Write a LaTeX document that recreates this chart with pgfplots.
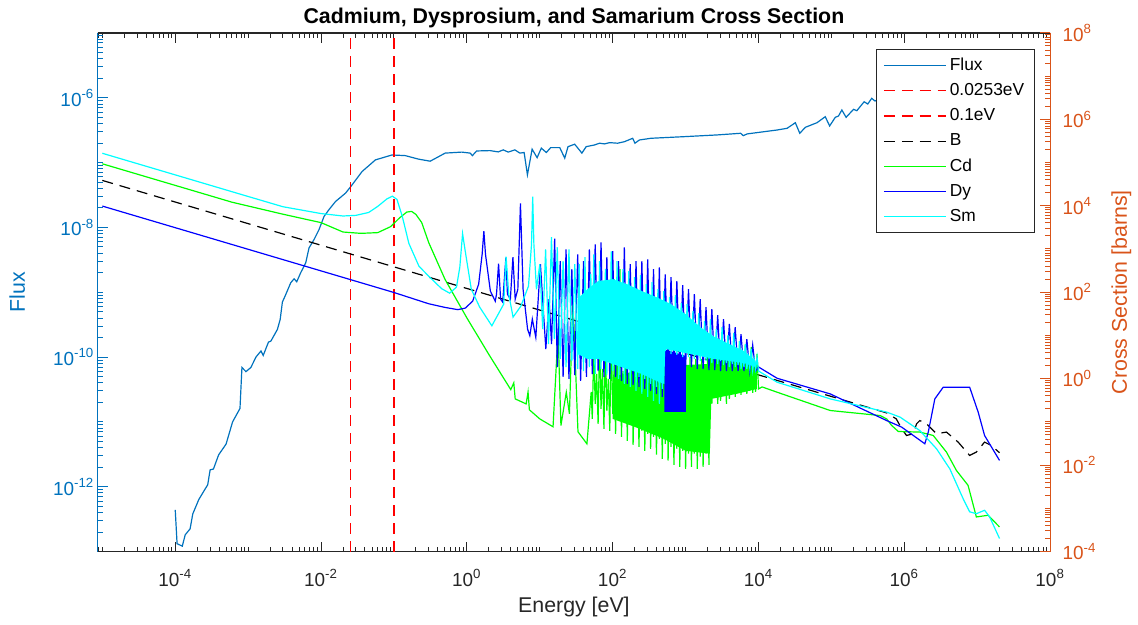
\documentclass[border=0pt]{standalone}
\usepackage{fontspec}
\setmainfont{Liberation Sans}
\usepackage{pgfplots}
\pgfplotsset{compat=1.18}

\definecolor{fluxblue}{rgb}{0,0.447,0.741}
\definecolor{csorange}{rgb}{0.85,0.325,0.098}
\definecolor{axisgray}{rgb}{0.15,0.15,0.15}
\definecolor{cdgreen}{rgb}{0,1,0}
\definecolor{dyblue}{rgb}{0,0,1}
\definecolor{smcyan}{rgb}{0,1,1}
\definecolor{lnred}{rgb}{1,0,0}

% minor tick positions m*10^k for the log axes
\def\xminors{}
\foreach \ex in {-6,...,8}{\foreach \mt in {1,...,9}{\xdef\xminors{\xminors\mt e\ex,}}}
\xdef\xminors{\xminors 1e9}
\def\yminorsL{}
\foreach \ex in {-14,...,-4}{\foreach \mt in {1,...,9}{\xdef\yminorsL{\yminorsL\mt e\ex,}}}
\xdef\yminorsL{\yminorsL 1e-3}
\def\yminorsR{}
\foreach \ex in {-5,...,8}{\foreach \mt in {1,...,9}{\xdef\yminorsR{\yminorsR\mt e\ex,}}}
\xdef\yminorsR{\yminorsR 1e9}

\newcommand\tickfont{\fontsize{9.5}{11}\selectfont}
\newcommand\labelfont{\fontsize{10.7}{12}\selectfont}

\begin{document}
\begin{tikzpicture}
% ---------------- left axis: neutron flux ----------------
\begin{axis}[
  name=fluxax,
  scale only axis, width=477.5pt, height=260pt,
  xmode=log, ymode=log,
  xmin=8.65e-6, xmax=1e8, ymin=1e-13, ymax=1e-5,
  axis y line*=left,
  xtick={1e-4,1e-2,1,1e2,1e4,1e6,1e8},
  xticklabels={10\textsuperscript{-4},10\textsuperscript{-2},10\textsuperscript{0},10\textsuperscript{2},10\textsuperscript{4},10\textsuperscript{6},10\textsuperscript{8}},
  minor xtick/.expanded=\xminors,
  ytick={1e-12,1e-10,1e-8,1e-6},
  yticklabels={10\textsuperscript{-12},10\textsuperscript{-10},10\textsuperscript{-8},10\textsuperscript{-6}},
  minor ytick/.expanded=\yminorsL,
  major tick length=5pt, minor tick length=2.5pt,
  tick style={axisgray, line width=0.5pt},
  every major y tick/.append style={fluxblue},
  every minor y tick/.append style={fluxblue},
  x axis line style={axisgray, line width=0.6pt},
  y axis line style={fluxblue, line width=0.6pt},
  xticklabel style={text=axisgray, font=\tickfont, anchor=base, yshift=-17.5pt, inner sep=0pt},
  yticklabel style={text=fluxblue, font=\tickfont, anchor=east, xshift=-1.5pt, inner sep=0pt},
  xlabel={Energy [eV]}, ylabel={Flux},
  every axis x label/.style={at={(axis description cs:0.5,-0.1173)}, anchor=base, text=axisgray, font=\labelfont},
  every axis y label/.style={at={(axis description cs:-0.0764,0.5)}, anchor=base, rotate=90, text=fluxblue, font=\labelfont},
  title={Cadmium, Dysprosium, and Samarium Cross Section},
  every axis title/.style={at={(axis description cs:0.5,1.01865)}, anchor=base, font=\bfseries\labelfont},
]
\addplot[fluxblue, line width=0.6pt] coordinates {
(1.0e-4,4.4e-13) (1.06e-4,1.32e-13) (1.25e-4,1.21e-13) (1.37e-4,1.81e-13) (1.60e-4,2.24e-13)
(1.74e-4,3.8e-13) (2.10e-4,6.3e-13) (2.46e-4,8.5e-13) (2.79e-4,1.07e-12) (3.01e-4,1.82e-12)
(3.34e-4,1.87e-12) (3.94e-4,3.1e-12) (4.98e-4,4.54e-12) (6.12e-4,1.0e-11) (7.73e-4,1.61e-11)
(8.22e-4,6.9e-11) (9.33e-4,5.96e-11) (1.09e-3,6.9e-11) (1.28e-3,1.0e-10) (1.50e-3,1.24e-10)
(1.61e-3,1.06e-10) (1.90e-3,1.70e-10) (2.05e-3,1.76e-10) (2.52e-3,2.67e-10) (2.75e-3,3.8e-10)
(2.95e-3,7.06e-10) (3.21e-3,8.7e-10) (3.84e-3,1.40e-9) (4.27e-3,1.61e-9) (4.64e-3,1.45e-9)
(5.26e-3,2.0e-9) (6.16e-3,2.83e-9) (6.84e-3,4.82e-9) (8.0e-3,6.47e-9) (9.36e-3,9.2e-9)
(1.10e-2,1.48e-8) (1.28e-2,1.87e-8) (1.58e-2,2.51e-8) (2.17e-2,3.38e-8) (2.67e-2,4.54e-8)
(3.65e-2,7.27e-8) (5.57e-2,1.10e-7) (9.39e-2,1.31e-7) (0.143,1.28e-7) (0.217,1.13e-7)
(0.314,1.05e-7) (0.504,1.40e-7) (0.849,1.45e-7) (1.11,1.40e-7) (1.19,1.28e-7) (1.36,1.51e-7)
(2.08,1.53e-7) (2.69,1.46e-7) (3.15,1.57e-7) (3.69,1.45e-7) (4.55,1.57e-7) (5.33,1.40e-7)
(6.10,1.43e-7) (6.77,6.46e-8) (7.85,1.61e-7) (9.19,1.19e-7) (10.5,1.67e-7) (12.3,1.43e-7)
(14.1,1.70e-7) (18.8,1.70e-7) (22.0,1.17e-7) (24.4,1.76e-7) (30.1,1.92e-7) (37.8,1.40e-7)
(43.3,1.76e-7) (56.4,1.87e-7) (66.0,1.99e-7) (77.3,1.94e-7) (90.4,2.03e-7) (117,1.99e-7)
(145,2.10e-7) (188,2.37e-7) (202,1.99e-7) (232,2.23e-7) (335,2.37e-7) (957,2.51e-7)
(2.73e3,2.67e-7) (5.68e3,2.83e-7) (6.18e3,2.60e-7) (7.01e3,2.77e-7) (1.80e4,3.18e-7)
(2.47e4,3.38e-7) (3.20e4,4.12e-7) (3.68e4,2.83e-7) (4.39e4,3.5e-7) (6.34e4,4.12e-7)
(8.23e4,5.1e-7) (9.45e4,3.67e-7) (1.13e5,4.99e-7) (1.25e5,5.23e-7) (1.39e5,6.47e-7)
(1.59e5,4.99e-7) (2.01e5,6.63e-7) (2.23e5,6.31e-7) (2.81e5,8.67e-7) (3.15e5,8.0e-7)
(3.57e5,9.8e-7) (3.96e5,8.9e-7) (5.73e5,1.06e-6) (1.47e6,1.2e-6) (5.19e6,1.4e-6) (2.0e7,1.3e-6)
};
\end{axis}

% ---------------- right axis: cross sections ----------------
\begin{axis}[
  scale only axis, width=477.5pt, height=260pt,
  xmode=log, ymode=log,
  xmin=8.65e-6, xmax=1e8, ymin=1e-4, ymax=1e8,
  axis x line=none, axis y line*=right,
  ytick={1e-4,1e-2,1,1e2,1e4,1e6,1e8},
  yticklabels={10\textsuperscript{-4},10\textsuperscript{-2},10\textsuperscript{0},10\textsuperscript{2},10\textsuperscript{4},10\textsuperscript{6},10\textsuperscript{8}},
  minor ytick/.expanded=\yminorsR,
  major tick length=5pt, minor tick length=2.5pt,
  tick style={csorange, line width=0.5pt},
  y axis line style={csorange, line width=0.6pt},
  yticklabel style={text=csorange, font=\tickfont, anchor=west, xshift=6pt, inner sep=0pt},
  ylabel={Cross Section [barns]},
  every axis y label/.style={at={(axis description cs:1.0806,0.5)}, anchor=base, rotate=90, text=csorange, font=\labelfont},
  legend cell align=left,
  legend style={at={(axis description cs:0.9843,0.9687)}, anchor=north east,
    draw=axisgray, line width=0.5pt, fill=white, font=\fontsize{8.7}{10}\selectfont,
    inner xsep=3.5pt, inner ysep=2pt, row sep=0.75pt,
    nodes={inner sep=1.8pt, text=black, text height=6.5pt, text depth=1.8pt}},
  legend image code/.code={\draw[#1] (0pt,0pt) -- (31pt,0pt);},
]
% thermal and 0.1 eV markers
\addplot[lnred, line width=0.6pt, dash pattern=on 5.5pt off 3.5pt, forget plot] coordinates {(0.0253,1e-4) (0.0253,1e8)};
\addplot[lnred, line width=0.6pt, dash pattern=on 5.5pt off 3.5pt, forget plot] coordinates {(0.1,1e-4) (0.1,1e8)};

% natural boron
\addplot[black, line width=0.6pt, dash pattern=on 5.5pt off 3.5pt, forget plot] coordinates {
(1e-5,3.86e4) (1e5,0.386) (5.73e5,0.161) (7.76e5,0.117) (9.2e5,0.069) (1.07e6,0.0484)
(1.33e6,0.053) (1.47e6,0.090) (1.63e6,0.107) (2.02e6,0.090) (2.76e6,0.053) (3.78e6,0.058)
(5.47e6,0.034) (7.87e6,0.0167) (9.72e6,0.020) (1.26e7,0.034) (1.56e7,0.0284) (2.02e7,0.0193)
};

% cadmium: unresolved resonance band, then the pointwise curve
\addplot[fill=cdgreen, draw=none, forget plot] coordinates {
(100,1.094) (200,1.50) (500,1.86) (1000,2.07) (2150,2.18) (2250,2.85) (5000,3.17) (9500,2.18)
(9500,0.578) (5000,0.444) (2250,0.340) (2150,0.0183) (1000,0.0214) (500,0.0406) (200,0.0767) (100,0.117)
} -- cycle;
\addplot[cdgreen, line width=0.6pt, forget plot] coordinates {
(1e-5,9.36e4) (6e-4,1.21e4) (3e-3,6.38e3) (0.01,4.07e3) (0.02,2.47e3) (0.035,2.3e3)
(0.06,2.39e3) (0.09,3.29e3) (0.12,5.3e3) (0.15,7.15e3) (0.175,7.4e3) (0.20,6.3e3)
(0.24,4.1e3) (0.30,1.4e3) (0.5,200) (1.0,25.4) (2.0,3.64) (4.0,0.557) (4.4,0.80) (4.6,0.34)
(6.5,0.26) (6.9,0.49) (7.2,0.19) (10,0.117) (15.2,0.077) (17.8,11.8) (19.5,0.082) (23.1,0.485)
(25.5,0.153) (28.5,69) (33.4,0.059) (44.3,0.031) (50.7,0.49)
(52.48,0.117) (54.95,4.85) (57.54,0.261) (60.26,1.28) (63.10,0.090) (66.07,8.24) (69.18,0.200)
(72.44,1.67) (75.86,0.069) (79.43,6.32) (83.18,0.180) (87.10,0.984) (91.20,0.062) (95.50,10.8)
(100,0.153) (104.7,2.18) (109.6,0.053) (114.8,4.85) (120.2,0.117) (125.9,340) (131.8,0.0452)
(138.0,1.50) (144.5,0.130) (151.4,10.8) (158.5,0.0365) (166.0,1.094) (173.8,0.090) (182.0,9.16)
(190.5,0.0295) (199.5,1.67) (208.9,0.0767) (218.8,8.24) (229.1,0.0265) (239.9,0.984) (251.2,0.062)
(263.0,7.41) (275.4,0.0214) (288.4,1.28) (302.0,0.053) (316.2,6.32) (331.1,0.0238) (346.7,0.885)
(363.1,0.0452) (380.2,5.68) (398.1,0.0174) (416.9,1.094) (436.5,0.0406) (457.1,4.85) (478.6,0.0140)
(501.2,0.755) (524.8,0.0311) (549.5,4.36) (575.4,0.0126) (602.6,0.984) (631.0,0.0265) (660.7,3.72)
(691.8,0.0101) (724.4,0.755) (758.6,0.0238) (794.3,3.53) (831.8,0.00912) (871.0,0.885) (912.0,0.0214)
(955.0,3.17) (1000,0.0082) (1047,0.755) (1096,0.0183) (1148,3.17) (1202,0.00912) (1259,0.984)
(1318,0.0183) (1380,2.85) (1445,0.0082) (1514,0.755) (1585,0.0156) (1660,2.85) (1738,0.00912)
(1820,0.885) (1905,0.0183) (1995,3.17) (2089,0.0101) (2188,4.85) (2291,0.261) (2399,1.50)
(2512,0.378) (2630,5.39) (2754,0.261) (2884,1.28) (3020,0.306) (3162,5.99) (3311,0.421)
(3467,1.67) (3631,0.261) (3802,6.67) (3981,0.340) (4169,1.50) (4365,0.444) (4571,7.03)
(4786,0.378) (5012,1.86) (5248,0.468) (5495,7.41) (5754,0.421) (6026,1.67) (6310,0.520)
(6607,6.32) (6918,0.444) (7244,1.50) (7586,0.520) (7943,5.39) (8318,0.468) (8710,1.28)
(9120,0.494) (9550,3.72) (10000,0.578)
(1.12e4,0.643) (1.8e4,0.485) (9.63e4,0.183) (4.64e5,0.14) (5.73e5,0.117) (6.71e5,0.0822)
(8.28e5,0.0598) (1.63e6,0.058) (2.49e6,0.0484) (3.78e6,0.02) (5.18e6,7.5e-3) (7.48e6,3.4e-3)
(9.72e6,6.3e-4) (1.41e7,6.9e-4) (2.02e7,3.7e-4)
};

% dysprosium
\addplot[dyblue, line width=0.6pt, forget plot] coordinates {
(1e-5,9840) (1e-3,984) (0.1,98.4) (0.3,54) (0.5,44.5) (0.75,39.5) (0.95,42.8) (1.2,62)
(1.45,153) (1.62,755) (1.71,2600) (1.80,755) (2.1,106) (2.45,62) (2.55,90) (2.72,460)
(2.9,69) (3.1,59) (3.43,634) (3.6,90) (3.95,69) (4.28,644) (4.6,69) (5.0,117) (5.43,1.13e4)
(5.9,117) (6.8,14.0) (7.30,9.8) (7.9,23.9) (8.82,9.0) (10.2,444) (12.1,4.84) (13.4,69)
(14.5,6.3) (16.0,1740)
(17.38,1.86) (19.05,521) (20.89,1.094) (22.91,985) (25.12,0.984) (27.54,340) (30.20,1.21)
(33.11,755) (36.31,0.885) (39.81,521) (43.65,1.094) (47.86,985) (52.48,1.28) (57.54,1280)
(63.10,1.50) (69.18,1424) (75.86,1.094) (83.18,644) (91.20,0.984) (100,886) (109.6,1.094)
(120.2,521) (131.8,0.885) (144.5,1096) (158.5,0.755) (173.8,444) (190.5,0.716) (208.9,521)
(229.1,0.643) (251.2,520) (275.4,0.578) (302.0,578) (331.1,0.520) (363.1,340) (398.1,0.444)
(436.5,377) (478.6,0.378) (524.8,260) (575.4,2.18) (631.0,222) (691.8,2.07) (758.6,180)
(831.8,1.86) (912.0,145) (1000,1.86) (1096,117) (1202,1.86) (1318,90) (1445,1.67)
(1585,69) (1738,1.67) (1905,45) (2089,1.58) (2291,40.6) (2512,1.58) (2754,29.6)
(3020,1.50) (3311,23.8) (3631,1.50) (3981,18.4) (4365,1.50) (4786,15.6) (5248,1.50)
(5754,10.7) (6310,1.50) (6918,8.2) (7586,1.50) (8318,6.0) (9120,1.50) (10000,1.86)
(1.8e4,1.02) (9.63e4,0.443) (5.73e5,0.107) (9.2e5,0.0755) (1.91e6,0.0311) (2.13e6,0.058)
(2.62e6,0.34) (3.41e6,0.633) (7.87e6,0.633) (1.03e7,0.168) (1.26e7,0.0484) (2.02e7,0.0128)
};
% unresolved Dy band between 0.5 and 1 keV
\addplot[fill=dyblue, draw=none, forget plot] coordinates {
(510,4.85) (1007,3.34) (1007,0.171) (510,0.171)
} -- cycle;

% samarium: unresolved resonance band, then the pointwise curve
\addplot[fill=smcyan, draw=none, forget plot] coordinates {
(33,69.1) (45,117) (63,180) (100,200) (158,153) (251,106) (398,76.9) (631,53.0) (1000,31.1)
(1585,15.6) (2512,9.16) (3981,6.32) (6310,4.36) (9120,2.56)
(9120,1.86) (6310,2.30) (3981,2.56) (2512,2.85) (1585,3.34) (1000,3.92) (524.8,4.85)
(510,0.755) (398,0.885) (251,1.28) (158,1.67) (100,2.18) (63,2.85) (45,2.85) (33,3.72)
} -- cycle;
\addplot[smcyan, line width=0.6pt, forget plot] coordinates {
(1e-5,1.64e5) (1e-3,1.64e4) (3e-3,9.5e3) (0.01,6.6e3) (0.02,5.8e3) (0.03,6.0e3) (0.045,7.0e3)
(0.06,9.7e3) (0.08,1.44e4) (0.095,1.67e4) (0.11,1.40e4) (0.13,5.7e3) (0.16,1.35e3) (0.22,400)
(0.30,234) (0.45,121) (0.58,95) (0.72,131) (0.80,378) (0.873,2.27e3) (0.95,885) (1.15,117)
(1.5,45) (2.2,16.7) (3.2,53) (3.45,668) (3.75,90) (4.3,26.5) (5.5,47.6) (7.0,138) (7.7,1.28e3)
(8.0,1.62e4) (8.3,1.28e3) (9.0,117)
(10.0,444) (10.96,14.0) (12.02,985) (13.18,6.32) (14.45,1868) (15.85,8.24) (17.38,1096)
(19.05,2.85) (20.89,521) (22.91,1.86) (25.12,985) (27.54,2.56) (30.20,444)
(33.11,1.67) (34.67,444) (36.31,3.72) (38.02,69.1) (39.81,1.50) (41.69,644) (43.65,4.85)
(45.71,117) (47.86,1.86) (50.12,261) (52.48,2.85) (54.95,755) (57.54,1.28) (60.26,90.2)
(63.10,3.72) (66.07,521) (69.18,1.67) (72.44,153) (75.86,2.85) (79.43,340) (83.18,1.21)
(87.10,117) (91.20,3.17) (95.50,886) (100,1.50) (104.7,200) (109.6,2.18) (114.8,521)
(120.2,0.984) (125.9,117) (131.8,2.56) (138.0,340) (144.5,0.755) (151.4,153) (158.5,1.67)
(166.0,306) (173.8,0.643) (182.0,90.2) (190.5,1.50) (199.5,222) (208.9,0.520) (218.8,117)
(229.1,1.094) (239.9,247) (251.2,0.444) (263.0,69.1) (275.4,0.984) (288.4,153) (302.0,0.378)
(316.2,90.2) (331.1,0.755) (346.7,170) (363.1,0.306) (380.2,69.1) (398.1,0.643) (416.9,117)
(436.5,0.261) (457.1,53.0) (478.6,0.578) (501.2,106) (524.8,4.36) (549.5,40.6) (575.4,4.85)
(602.6,76.9) (631.0,3.72) (660.7,31.1) (691.8,4.85) (724.4,85.5) (758.6,3.53) (794.3,26.6)
(831.8,4.36) (871.0,55.9) (912.0,3.17) (955.0,23.9) (1000,3.92) (1047,53.0) (1096,3.17)
(1148,18.3) (1202,3.72) (1259,36.5) (1318,2.85) (1380,14.0) (1445,3.53) (1514,32.8)
(1585,2.56) (1660,10.8) (1738,3.17) (1820,21.5) (1905,2.56) (1995,9.16) (2089,2.85)
(2188,23.9) (2291,2.30) (2399,7.41) (2512,2.85) (2630,14.0) (2754,2.18) (2884,6.32)
(3020,2.56) (3162,15.6) (3311,2.07) (3467,5.39) (3631,2.30) (3802,10.2) (3981,1.86)
(4169,4.85) (4365,2.18) (4571,11.4) (4786,1.86) (5012,4.36) (5248,2.07) (5495,7.41)
(5754,1.67) (6026,3.72) (6310,1.86) (6607,6.32) (6918,1.67) (7244,3.17) (7586,1.76)
(7943,4.85) (8318,1.58) (8710,2.85) (9120,1.67) (9550,3.17) (10000,1.50)
(1.8e4,0.826) (9.63e4,0.34) (5.73e5,0.168) (8.71e5,0.129) (1.63e6,0.063) (2.76e6,0.0239)
(4.2e6,8.2e-3) (6.4e6,1.67e-3) (7.87e6,8.3e-4) (9.72e6,7.5e-4) (1.26e7,9.0e-4) (1.48e7,6.3e-4)
(2.02e7,2.0e-4)
};

% legend, in drawing order
\addlegendimage{fluxblue, line width=0.6pt}
\addlegendentry{Flux}
\addlegendimage{lnred, line width=0.6pt, dash pattern=on 5.5pt off 3.5pt}
\addlegendentry{0.0253eV}
\addlegendimage{lnred, line width=0.6pt, dash pattern=on 5.5pt off 3.5pt}
\addlegendentry{0.1eV}
\addlegendimage{black, line width=0.6pt, dash pattern=on 5.5pt off 3.5pt}
\addlegendentry{B}
\addlegendimage{cdgreen, line width=0.6pt}
\addlegendentry{Cd}
\addlegendimage{dyblue, line width=0.6pt}
\addlegendentry{Dy}
\addlegendimage{smcyan, line width=0.6pt}
\addlegendentry{Sm}
\end{axis}

% page frame
\path ([xshift=-49pt,yshift=-36.5pt]fluxax.south west) rectangle ([xshift=42.5pt,yshift=16.5pt]fluxax.north east);
\end{tikzpicture}
\end{document}
